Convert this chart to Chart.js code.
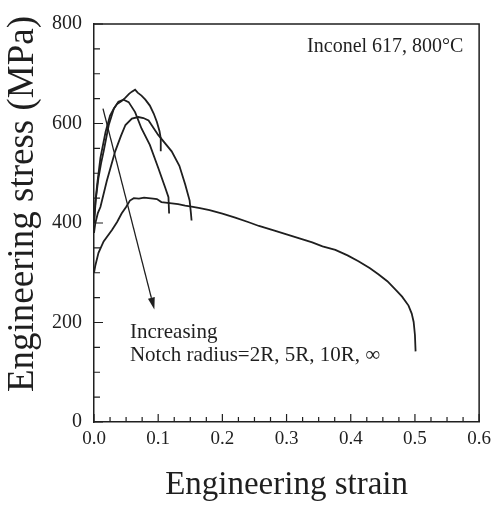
<!DOCTYPE html>
<html>
<head>
<meta charset="utf-8">
<title>Inconel 617 notched tensile curves</title>
<script src="https://cdn.jsdelivr.net/npm/chart.js@4.4.1/dist/chart.umd.min.js"></script>
<style>
  html, body { margin: 0; padding: 0; background: #fff; }
  canvas { display: block; }
</style>
</head>
<body>
<canvas id="stressChart" width="497" height="506"></canvas>
<script>
// Engineering stress-strain curves, one per notch radius
const strain2R = [0, 0.002, 0.005, 0.010, 0.018, 0.025, 0.031, 0.036, 0.043, 0.049, 0.055, 0.059, 0.064, 0.068, 0.074, 0.080, 0.087, 0.093, 0.098, 0.102, 0.104, 0.104];
const stress2R = [400, 440, 478, 531, 583, 616, 630, 639, 645, 652, 660, 664, 668, 662, 656, 648, 636, 620, 603, 585, 570, 544];

const strain5R = [0, 0.003, 0.007, 0.011, 0.015, 0.023, 0.031, 0.038, 0.046, 0.054, 0.064, 0.074, 0.087, 0.100, 0.111, 0.116, 0.117];
const stress5R = [400, 450, 491, 520, 544, 597, 630, 644, 648, 643, 623, 590, 557, 511, 471, 452, 419];

const strain10R = [0, 0.002, 0.006, 0.010, 0.020, 0.033, 0.042, 0.049, 0.059, 0.069, 0.077, 0.085, 0.100, 0.121, 0.133, 0.142, 0.149, 0.151, 0.152];
const stress10R = [380, 399, 420, 432, 485, 544, 575, 597, 610, 613, 611, 606, 577, 544, 515, 478, 445, 420, 405];

const strainInf = [0, 0.002, 0.007, 0.015, 0.028, 0.036, 0.043, 0.050, 0.056, 0.062, 0.070, 0.078, 0.085, 0.092, 0.098, 0.105, 0.118, 0.131, 0.142, 0.152, 0.165, 0.180, 0.200, 0.220, 0.240, 0.257, 0.280, 0.300, 0.320, 0.340, 0.356, 0.376, 0.395, 0.412, 0.430, 0.443, 0.457, 0.469, 0.480, 0.490, 0.495, 0.498, 0.500, 0.501];
const stressInf = [300, 314, 340, 363, 386, 402, 419, 432, 445, 450, 449, 451, 450, 449, 448, 442, 440, 438, 435, 433, 430, 426, 419, 411, 402, 394, 385, 377, 369, 361, 353, 346, 335, 323, 309, 297, 283, 267, 252, 234, 218, 201, 175, 142];

const strainTicks = [0, 0.1, 0.2, 0.3, 0.4, 0.5, 0.6];
const stressTicks = [0, 200, 400, 600, 800];

const ink = '#1f1f1f';
const serif = "'Liberation Serif', 'Times New Roman', serif";

function toPoints(xs, ys) {
  return xs.map((x, i) => ({ x: x, y: ys[i] }));
}

function curve(label, xs, ys) {
  return {
    label: label,
    data: toPoints(xs, ys),
    showLine: true,
    borderColor: ink,
    borderWidth: 1.8,
    pointRadius: 0,
    tension: 0,
    fill: false
  };
}

// arrow and text notes, placed in data units
const arrowFrom = { x: 0.014, y: 630 };
const arrowTo = { x: 0.094, y: 226 };

const notesPlugin = {
  id: 'notes',
  afterDatasetsDraw(chart) {
    const { ctx, chartArea: a, scales: { x, y } } = chart;
    ctx.save();
    ctx.strokeStyle = ink;
    ctx.fillStyle = ink;

    // top and right frame lines
    ctx.lineWidth = 1.5;
    ctx.beginPath();
    ctx.moveTo(a.left, a.top);
    ctx.lineTo(a.right, a.top);
    ctx.lineTo(a.right, a.bottom);
    ctx.stroke();

    // inward tick marks, minor ones between the labelled values
    ctx.lineWidth = 1.2;
    ctx.beginPath();
    for (let i = 0; i <= 24; i++) {
      const px = x.getPixelForValue(i * 0.025);
      const len = i % 4 === 0 ? 8 : 5;
      ctx.moveTo(px, a.bottom);
      ctx.lineTo(px, a.bottom - len);
    }
    for (let i = 0; i <= 16; i++) {
      const py = y.getPixelForValue(i * 50);
      const len = i % 4 === 0 ? 9 : 6;
      ctx.moveTo(a.left, py);
      ctx.lineTo(a.left + len, py);
    }
    ctx.stroke();

    // arrow through the peaks
    const x0 = x.getPixelForValue(arrowFrom.x), y0 = y.getPixelForValue(arrowFrom.y);
    const x1 = x.getPixelForValue(arrowTo.x), y1 = y.getPixelForValue(arrowTo.y);
    const ang = Math.atan2(y1 - y0, x1 - x0);
    const head = 12;
    ctx.lineWidth = 1.3;
    ctx.beginPath();
    ctx.moveTo(x0, y0);
    ctx.lineTo(x1 - head * Math.cos(ang), y1 - head * Math.sin(ang));
    ctx.stroke();
    ctx.beginPath();
    ctx.moveTo(x1, y1);
    ctx.lineTo(x1 - head * Math.cos(ang) + 3.5 * Math.sin(ang), y1 - head * Math.sin(ang) - 3.5 * Math.cos(ang));
    ctx.lineTo(x1 - head * Math.cos(ang) - 3.5 * Math.sin(ang), y1 - head * Math.sin(ang) + 3.5 * Math.cos(ang));
    ctx.closePath();
    ctx.fill();

    // text notes
    ctx.textAlign = 'left';
    ctx.textBaseline = 'alphabetic';
    ctx.font = '21px ' + serif;
    ctx.fillText('Increasing', x.getPixelForValue(0.056), y.getPixelForValue(168));
    ctx.fillText('Notch radius=2R, 5R, 10R, \u221E', x.getPixelForValue(0.056), y.getPixelForValue(123));
    ctx.font = '20px ' + serif;
    ctx.fillText('Inconel 617, 800\u00B0C', x.getPixelForValue(0.332), y.getPixelForValue(743));

    // y axis title
    ctx.font = '37px ' + serif;
    ctx.textAlign = 'center';
    ctx.textBaseline = 'middle';
    ctx.translate(23, (a.top + a.bottom) / 2 - 19);
    ctx.rotate(-Math.PI / 2);
    ctx.fillText('Engineering stress (MPa)', 0, 0);
    ctx.restore();
  }
};

new Chart(document.getElementById('stressChart'), {
  type: 'scatter',
  data: {
    datasets: [
      curve('2R', strain2R, stress2R),
      curve('5R', strain5R, stress5R),
      curve('10R', strain10R, stress10R),
      curve('\u221E', strainInf, stressInf)
    ]
  },
  options: {
    responsive: false,
    animation: false,
    layout: { padding: { top: 17, right: 16, left: 0, bottom: 0 } },
    plugins: {
      legend: { display: false },
      tooltip: { enabled: false }
    },
    scales: {
      x: {
        type: 'linear',
        min: 0,
        max: 0.6,
        afterFit: s => { s.height = 84; },
        afterBuildTicks: s => { s.ticks = strainTicks.map(v => ({ value: v })); },
        ticks: {
          color: ink,
          padding: 6,
          maxRotation: 0,
          font: { family: serif, size: 19 },
          callback: v => Number(v).toFixed(1)
        },
        grid: { display: false, drawTicks: false },
        border: { display: true, color: ink, width: 1.5 },
        title: {
          display: true,
          text: 'Engineering strain',
          color: ink,
          font: { family: serif, size: 33 },
          padding: { top: 0, bottom: 1 }
        }
      },
      y: {
        type: 'linear',
        min: 0,
        max: 800,
        afterFit: s => { s.width = 94; },
        afterBuildTicks: s => { s.ticks = stressTicks.map(v => ({ value: v })); },
        ticks: {
          color: ink,
          padding: 12,
          font: { family: serif, size: 20 }
        },
        grid: { display: false, drawTicks: false },
        border: { display: true, color: ink, width: 1.5 }
      }
    }
  },
  plugins: [notesPlugin]
});
</script>
</body>
</html>
